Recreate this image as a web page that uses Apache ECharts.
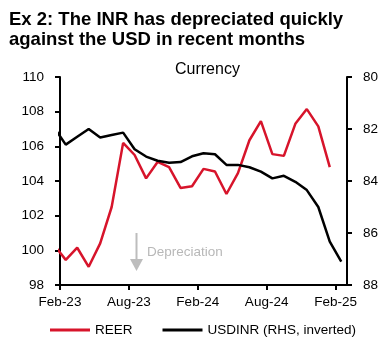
<!DOCTYPE html>
<html>
<head>
<meta charset="utf-8">
<script src="https://cdn.jsdelivr.net/npm/echarts@6/dist/echarts.min.js"></script>
<style>
  html, body { margin: 0; padding: 0; background: #fff; }
  #chart { width: 389px; height: 353px; }
</style>
</head>
<body>
<div id="chart"></div>
<script>
// monthly observations, plotted mid-month; x axis runs Feb-23 .. Mar-25
const months = ['Jan-23', 'Feb-23', 'Mar-23', 'Apr-23', 'May-23', 'Jun-23', 'Jul-23', 'Aug-23',
  'Sep-23', 'Oct-23', 'Nov-23', 'Dec-23', 'Jan-24', 'Feb-24', 'Mar-24', 'Apr-24', 'May-24',
  'Jun-24', 'Jul-24', 'Aug-24', 'Sep-24', 'Oct-24', 'Nov-24', 'Dec-24', 'Jan-25', 'Feb-25']
const reer = [100.3, 99.45, 100.15, 99.05, 100.4, 102.5, 106.2, 105.5, 104.15, 105.1, 104.8, 103.6,
  103.7, 104.7, 104.55, 103.25, 104.45, 106.35, 107.45, 105.55, 105.45, 107.3, 108.15, 107.15, 104.8]
const usdinr = [81.95, 82.6, 82.3, 82.0, 82.33, 82.23, 82.14, 82.78, 83.06, 83.22, 83.3, 83.27,
  83.05, 82.93, 82.97, 83.38, 83.38, 83.47, 83.64, 83.9, 83.8, 84.03, 84.35, 85.0, 86.33, 87.1]
const xTickLabels = ['Feb-23', 'Aug-23', 'Feb-24', 'Aug-24', 'Feb-25']

const font = 'Liberation Sans, Arial, sans-serif'
const red = '#d7142b'

// month index 1 = Feb-23 sits at x = 0.5 (mid-month)
const toXY = (vals) => vals.map((v, i) => [i - 0.5, v])

const chart = echarts.init(document.getElementById('chart'))
chart.setOption({
  animation: false,
  textStyle: { fontFamily: font, color: '#000' },
  title: {
    text: 'Ex 2: The INR has depreciated quickly\nagainst the USD in recent months',
    left: 4,
    top: 5,
    textStyle: { fontFamily: font, fontSize: 18.5, fontWeight: 'bold', lineHeight: 20, color: '#000' }
  },
  grid: { left: 60, right: 42, top: 77, bottom: 68 },
  legend: {
    left: 45,
    top: 318,
    itemWidth: 40,
    itemHeight: 3,
    itemGap: 30,
    icon: 'rect',
    textStyle: { fontFamily: font, fontSize: 13.5, color: '#000' },
    data: ['REER', 'USDINR (RHS, inverted)']
  },
  xAxis: {
    type: 'value',
    min: 0,
    max: 25,
    interval: 6,
    splitLine: { show: false },
    axisLine: { lineStyle: { color: '#000', width: 2 } },
    axisTick: { show: true, length: 5, lineStyle: { color: '#000', width: 2 } },
    axisLabel: {
      fontSize: 13.5,
      color: '#000',
      margin: 10,
      showMaxLabel: false,
      formatter: (v) => xTickLabels[v / 6] || ''
    }
  },
  yAxis: [
    {
      type: 'value',
      min: 98,
      max: 110,
      interval: 2,
      splitLine: { show: false },
      axisLine: { show: true, lineStyle: { color: '#000', width: 2 } },
      axisTick: { show: true, length: 5, lineStyle: { color: '#000', width: 2 } },
      axisLabel: { fontSize: 13.5, color: '#000', margin: 16 }
    },
    {
      type: 'value',
      min: 80,
      max: 88,
      interval: 2,
      inverse: true,
      position: 'right',
      splitLine: { show: false },
      axisLine: { show: true, lineStyle: { color: '#000', width: 2 } },
      axisTick: { show: true, length: 5, lineStyle: { color: '#000', width: 2 } },
      axisLabel: { fontSize: 13.5, color: '#000', margin: 16 }
    }
  ],
  series: [
    {
      name: 'REER',
      type: 'line',
      yAxisIndex: 0,
      data: toXY(reer),
      showSymbol: false,
      clip: true,
      lineStyle: { color: red, width: 2.5 },
      itemStyle: { color: red }
    },
    {
      name: 'USDINR (RHS, inverted)',
      type: 'line',
      yAxisIndex: 1,
      data: toXY(usdinr),
      showSymbol: false,
      clip: true,
      lineStyle: { color: '#000', width: 2.5 },
      itemStyle: { color: '#000' }
    }
  ],
  graphic: [
    {
      type: 'text',
      left: 175,
      top: 62,
      style: { text: 'Currency', font: '16px ' + font, fill: '#000' }
    },
    {
      type: 'line',
      shape: { x1: 136.5, y1: 233, x2: 136.5, y2: 260 },
      style: { stroke: '#bdbdbd', lineWidth: 2 }
    },
    {
      type: 'polygon',
      shape: { points: [[130, 259], [143, 259], [136.5, 271]] },
      style: { fill: '#bdbdbd' }
    },
    {
      type: 'text',
      left: 147,
      top: 245,
      style: { text: 'Depreciation', font: '13.5px ' + font, fill: '#b8b8b8' }
    }
  ]
})
</script>
</body>
</html>
